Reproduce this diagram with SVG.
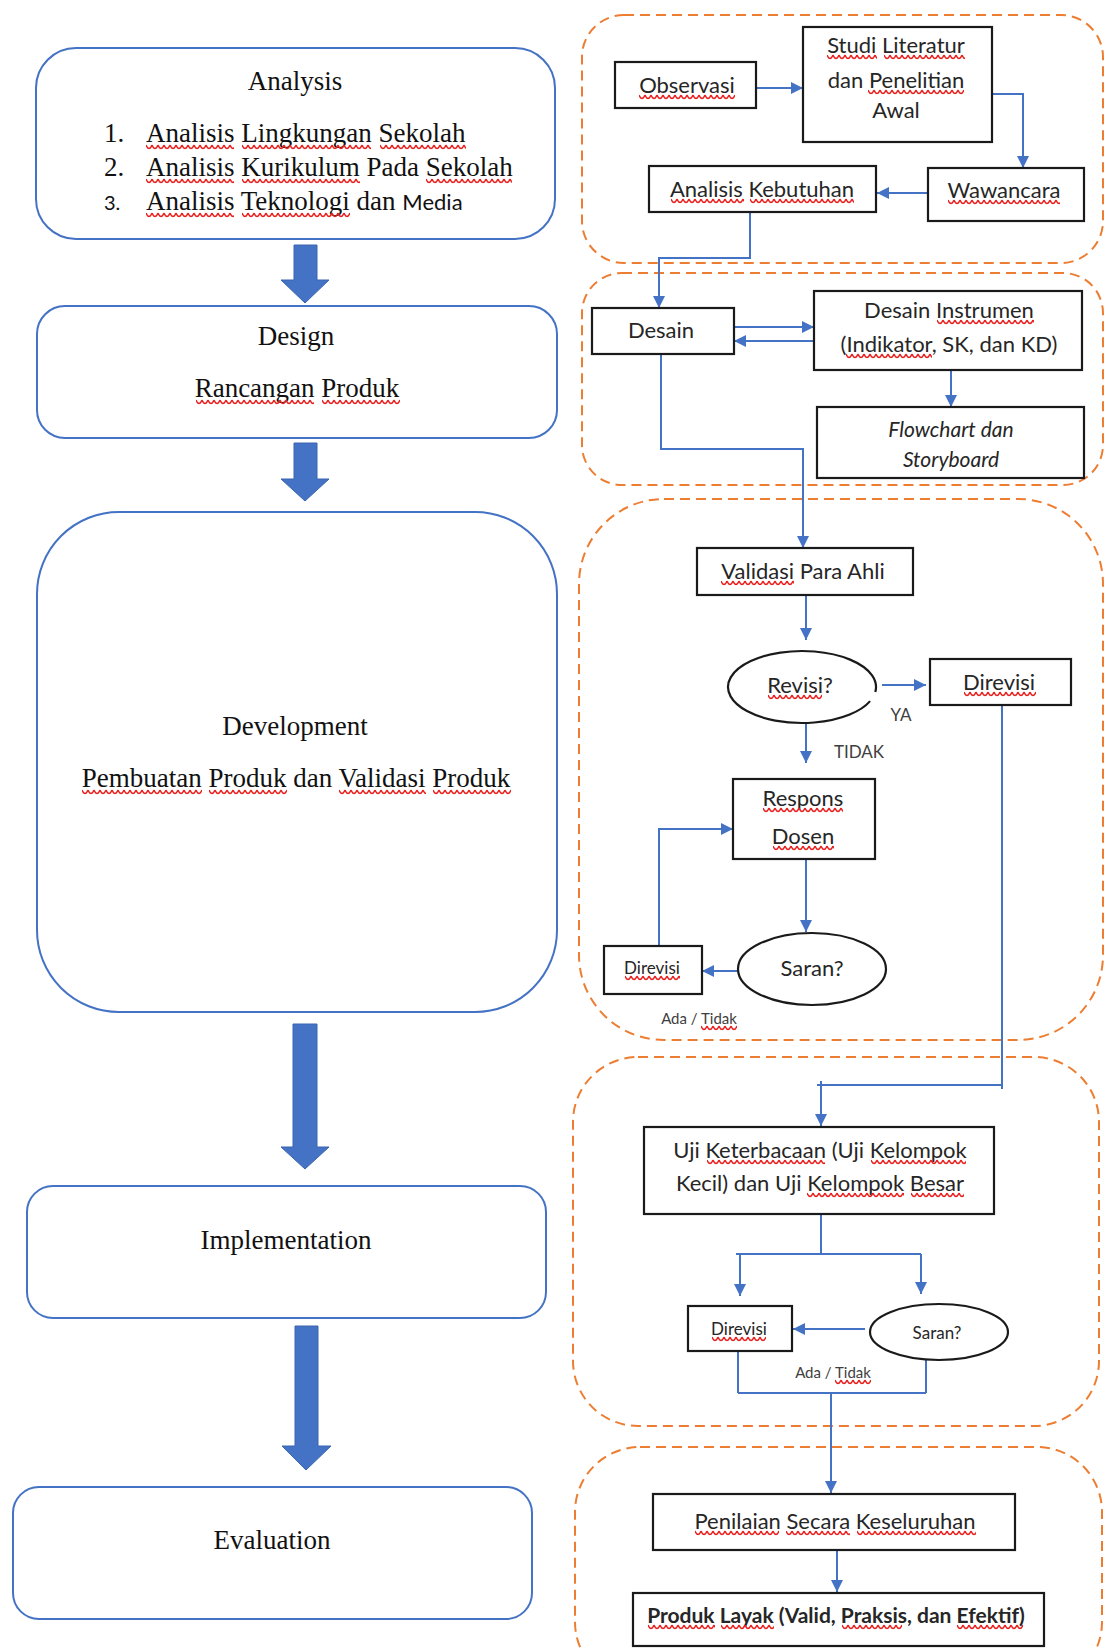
<svg xmlns="http://www.w3.org/2000/svg" width="1105" height="1649" viewBox="0 0 1105 1649">
<style>
.bx{fill:#fff;stroke:#4472C4;stroke-width:2}
.nb{fill:#fff;stroke:#1a1a1a;stroke-width:2.2}
.grp{fill:none;stroke:#ED7D31;stroke-width:2;stroke-dasharray:10 6}
.blk{fill:#4472C4;stroke:#3A64B0;stroke-width:1}
.c{fill:none;stroke:#4472C4;stroke-width:2}
.a{marker-end:url(#ah)}
.s{font-family:"Liberation Serif",serif;font-size:27px;fill:#111;text-anchor:middle}
.t{font-family:Lato,"Liberation Sans",sans-serif;font-size:22px;fill:#262626;text-anchor:middle}
.sm{font-size:17px}
.lb{font-family:Lato,"Liberation Sans",sans-serif;font-size:17px;fill:#404040;text-anchor:middle}
.w{fill:url(#wv)}
</style>
<defs>
<marker id="ah" viewBox="0 0 10 10" refX="10" refY="5" markerWidth="12" markerHeight="12" markerUnits="userSpaceOnUse" orient="auto">
<path d="M0,0 L10,5 L0,10 z" fill="#4472C4"/>
</marker>
<pattern id="wv" width="6" height="7" patternUnits="userSpaceOnUse">
<path d="M0 1 Q3 8 6 1" fill="none" stroke="#E8201E" stroke-width="1.5"/>
</pattern>
</defs>
<rect width="1105" height="1649" fill="#fff"/>

<!-- dashed phase groups -->
<g id="groups">
<rect class="grp" x="582" y="15" width="521" height="248" rx="42"/>
<rect class="grp" x="582" y="273" width="521" height="212" rx="40"/>
<rect class="grp" x="579" y="499" width="524" height="541" rx="85"/>
<rect class="grp" x="573" y="1057" width="526" height="369" rx="65"/>
<rect class="grp" x="575" y="1447" width="527" height="240" rx="65"/>
</g>

<!-- left ADDIE column -->
<g id="analysis">
<rect class="bx" x="36" y="48" width="519" height="191" rx="40"/>
<text class="s" x="295" y="90">Analysis</text>
<text class="s" x="104" y="142" style="text-anchor:start">1.</text>
<text class="s" x="146" y="142" style="text-anchor:start">Analisis Lingkungan Sekolah</text>
<text class="s" x="104" y="176" style="text-anchor:start">2.</text>
<text class="s" x="146" y="176" style="text-anchor:start">Analisis Kurikulum Pada Sekolah</text>
<text x="104" y="210" style="font-family:Lato,'Liberation Sans',sans-serif;font-size:20px;fill:#111">3.</text>
<text class="s" x="146" y="210" style="text-anchor:start">Analisis Teknologi dan <tspan style="font-family:Lato,'Liberation Sans',sans-serif;font-size:22px">Media</tspan></text>
</g>
<g id="arrow-a-d"><polygon class="blk" points="294,245 317,245 317,280 329,280 305,303 281,280 294,280"/></g>
<g id="design">
<rect class="bx" x="37" y="306" width="520" height="132" rx="28"/>
<text class="s" x="296" y="345">Design</text>
<text class="s" x="297" y="397">Rancangan Produk</text>
</g>
<g id="arrow-d-dev"><polygon class="blk" points="294,443 317,443 317,479 329,479 305,501 281,479 294,479"/></g>
<g id="development">
<rect class="bx" x="37" y="512" width="520" height="500" rx="82"/>
<text class="s" x="295" y="735">Development</text>
<text class="s" x="296" y="787">Pembuatan Produk dan Validasi Produk</text>
</g>
<g id="arrow-dev-i"><polygon class="blk" points="293,1024 317,1024 317,1147 329,1147 305,1169 281,1147 293,1147"/></g>
<g id="implementation">
<rect class="bx" x="27" y="1186" width="519" height="132" rx="26"/>
<text class="s" x="286" y="1249">Implementation</text>
</g>
<g id="arrow-i-e"><polygon class="blk" points="295,1326 318,1326 318,1446 331,1446 306,1470 282,1446 295,1446"/></g>
<g id="evaluation">
<rect class="bx" x="13" y="1487" width="519" height="132" rx="26"/>
<text class="s" x="272" y="1549">Evaluation</text>
</g>

<!-- connectors -->
<g id="connectors">
<path class="c a" d="M756 88 H803"/>
<path class="c a" d="M992 94 H1023 V168"/>
<path class="c a" d="M928 193 H877"/>
<path class="c a" d="M750 212 V258 H659 V308"/>
<path class="c a" d="M734 327 H814"/>
<path class="c a" d="M814 341 H734"/>
<path class="c a" d="M951 370 V407"/>
<path class="c a" d="M661 354 V449 H803 V548"/>
<path class="c a" d="M806 595 V640"/>
<path class="c a" d="M882 685 H926"/>
<path class="c a" d="M806 723 V763"/>
<path class="c a" d="M806 859 V932"/>
<path class="c a" d="M738 971 H702"/>
<path class="c a" d="M659 946 V829 H733"/>
<path class="c" d="M1002 705 V1089 M1002 1085 H817"/>
<path class="c a" d="M821 1081 V1126"/>
<path class="c" d="M821 1214 V1254 M736 1254 H921"/>
<path class="c a" d="M740 1254 V1296"/>
<path class="c a" d="M921 1254 V1294"/>
<path class="c a" d="M865 1329 H793"/>
<path class="c" d="M738 1351 V1393 M926 1360 V1393 M738 1393 H926"/>
<path class="c a" d="M831 1393 V1493"/>
<path class="c a" d="M837 1550 V1592"/>
</g>

<!-- right nodes -->
<g id="observasi">
<rect class="nb" x="615" y="62" width="141" height="46"/>
<text class="t" x="687" y="93">Observasi</text>
</g>
<g id="studi">
<rect class="nb" x="803" y="27" width="189" height="115"/>
<text class="t" x="896" y="53">Studi Literatur</text>
<text class="t" x="896" y="88">dan Penelitian</text>
<text class="t" x="896" y="118">Awal</text>
</g>
<g id="wawancara">
<rect class="nb" x="928" y="168" width="156" height="53"/>
<text class="t" x="1004" y="198">Wawancara</text>
</g>
<g id="analisis-kebutuhan">
<rect class="nb" x="649" y="166" width="227" height="46"/>
<text class="t" x="762" y="197">Analisis Kebutuhan</text>
</g>
<g id="desain">
<rect class="nb" x="592" y="308" width="142" height="46"/>
<text class="t" x="661" y="338">Desain</text>
</g>
<g id="desain-instrumen">
<rect class="nb" x="814" y="291" width="268" height="79"/>
<text class="t" x="949" y="318">Desain Instrumen</text>
<text class="t" x="949" y="352">(Indikator, SK, dan KD)</text>
</g>
<g id="flowchart">
<rect class="nb" x="817" y="407" width="267" height="71"/>
<text class="t" x="951" y="437" style="font-style:italic;font-size:21px">Flowchart dan</text>
<text class="t" x="951" y="467" style="font-style:italic;font-size:21px">Storyboard</text>
</g>
<g id="validasi">
<rect class="nb" x="697" y="548" width="216" height="47"/>
<text class="t" x="803" y="579">Validasi Para Ahli</text>
</g>
<g id="revisi">
<path class="nb" style="fill:none" d="M875.3 692 A74 36 0 1 0 870.1 701.1"/>
<text class="t" x="800" y="693">Revisi?</text>
</g>
<g id="direvisi-1">
<rect class="nb" x="930" y="659" width="141" height="46"/>
<text class="t" x="999" y="690">Direvisi</text>
</g>
<text class="lb" x="901" y="721">YA</text>
<text class="lb" x="859" y="758">TIDAK</text>
<g id="respons-dosen">
<rect class="nb" x="733" y="779" width="142" height="80"/>
<text class="t" x="803" y="806">Respons</text>
<text class="t" x="803" y="844">Dosen</text>
</g>
<g id="saran-1">
<ellipse class="nb" cx="812" cy="969" rx="74" ry="36"/>
<text class="t" x="812" y="976">Saran?</text>
</g>
<g id="direvisi-2">
<rect class="nb" x="604" y="946" width="98" height="48"/>
<text class="t sm" x="652" y="974">Direvisi</text>
</g>
<text class="lb" x="699" y="1024" style="font-size:15px">Ada / Tidak</text>
<g id="uji">
<rect class="nb" x="644" y="1127" width="350" height="87"/>
<text class="t" x="820" y="1158">Uji Keterbacaan (Uji Kelompok</text>
<text class="t" x="820" y="1191">Kecil) dan Uji Kelompok Besar</text>
</g>
<g id="direvisi-3">
<rect class="nb" x="688" y="1306" width="104" height="45"/>
<text class="t sm" x="739" y="1335">Direvisi</text>
</g>
<g id="saran-2">
<ellipse class="nb" cx="939" cy="1332" rx="69" ry="28"/>
<text class="t sm" x="937" y="1339">Saran?</text>
</g>
<text class="lb" x="833" y="1378" style="font-size:15px">Ada / Tidak</text>
<g id="penilaian">
<rect class="nb" x="653" y="1494" width="362" height="56"/>
<text class="t" x="835" y="1529">Penilaian Secara Keseluruhan</text>
</g>
<g id="produk-layak">
<rect class="nb" x="633" y="1593" width="411" height="53"/>
<text class="t" x="836" y="1623" style="font-weight:bold;font-size:21px">Produk Layak (Valid, Praksis, dan Efektif)</text>
</g>

<!-- spell-check wavy underlines as printed in the picture -->
<g id="spellcheck-marks">
<rect class="w" transform="translate(146,144)" width="88" height="7"/>
<rect class="w" transform="translate(242,144)" width="129" height="7"/>
<rect class="w" transform="translate(380,144)" width="86" height="7"/>
<rect class="w" transform="translate(146,178)" width="88" height="7"/>
<rect class="w" transform="translate(242,178)" width="118" height="7"/>
<rect class="w" transform="translate(426,178)" width="86" height="7"/>
<rect class="w" transform="translate(146,212)" width="88" height="7"/>
<rect class="w" transform="translate(242,212)" width="108" height="7"/>
<rect class="w" transform="translate(196,399)" width="118" height="7"/>
<rect class="w" transform="translate(322,399)" width="78" height="7"/>
<rect class="w" transform="translate(82,789)" width="120" height="7"/>
<rect class="w" transform="translate(209,789)" width="78" height="7"/>
<rect class="w" transform="translate(339,789)" width="87" height="7"/>
<rect class="w" transform="translate(433,789)" width="78" height="7"/>
<rect class="w" transform="translate(639,94)" width="96" height="7"/>
<rect class="w" transform="translate(827,54)" width="50" height="7"/>
<rect class="w" transform="translate(884,54)" width="81" height="7"/>
<rect class="w" transform="translate(868,89)" width="96" height="7"/>
<rect class="w" transform="translate(671,198)" width="73" height="7"/>
<rect class="w" transform="translate(750,198)" width="104" height="7"/>
<rect class="w" transform="translate(948,199)" width="112" height="7"/>
<rect class="w" transform="translate(937,319)" width="97" height="7"/>
<rect class="w" transform="translate(846,353)" width="86" height="7"/>
<rect class="w" transform="translate(721,580)" width="73" height="7"/>
<rect class="w" transform="translate(768,694)" width="54" height="7"/>
<rect class="w" transform="translate(964,691)" width="72" height="7"/>
<rect class="w" transform="translate(763,807)" width="80" height="7"/>
<rect class="w" transform="translate(773,845)" width="61" height="7"/>
<rect class="w" transform="translate(625,975)" width="55" height="7"/>
<rect class="w" transform="translate(701,1025)" width="36" height="7"/>
<rect class="w" transform="translate(707,1159)" width="118" height="7"/>
<rect class="w" transform="translate(871,1159)" width="95" height="7"/>
<rect class="w" transform="translate(807,1192)" width="97" height="7"/>
<rect class="w" transform="translate(911,1192)" width="53" height="7"/>
<rect class="w" transform="translate(712,1336)" width="54" height="7"/>
<rect class="w" transform="translate(835,1379)" width="36" height="7"/>
<rect class="w" transform="translate(695,1530)" width="84" height="7"/>
<rect class="w" transform="translate(786,1530)" width="64" height="7"/>
<rect class="w" transform="translate(857,1530)" width="119" height="7"/>
<rect class="w" transform="translate(648,1624)" width="67" height="7"/>
<rect class="w" transform="translate(721,1624)" width="53" height="7"/>
<rect class="w" transform="translate(842,1624)" width="60" height="7"/>
<rect class="w" transform="translate(957,1624)" width="66" height="7"/>
</g>
</svg>
